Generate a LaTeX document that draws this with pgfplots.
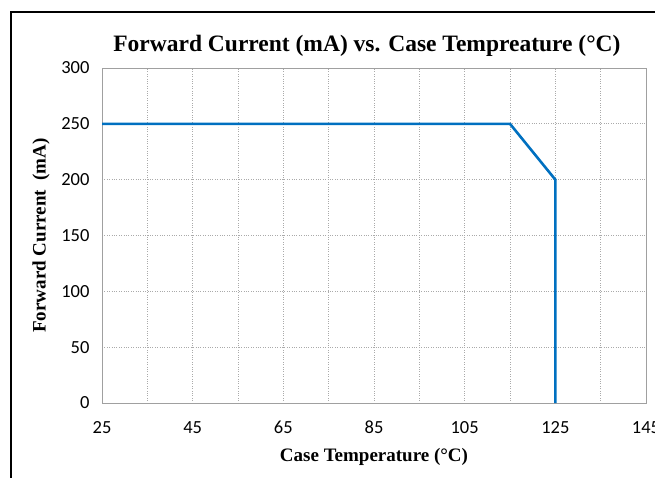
\documentclass[border=0pt]{standalone}
\usepackage{fontspec}
\usepackage{pgfplots}
\pgfplotsset{compat=1.18}
\newfontfamily\carlito{Carlito}
\newfontfamily\tnr{Liberation Serif}
\definecolor{xlblue}{RGB}{0,112,192}
\definecolor{gridgray}{RGB}{170,170,170}
\definecolor{boxgray}{RGB}{160,160,160}
\begin{document}
\begin{tikzpicture}[x=1pt,y=1pt]
\useasboundingbox (0,0) rectangle (655,477);
\draw[line width=2.8pt] (11,-10) -- (11,465) -- (670,465);
\begin{axis}[
  at={(102pt,74pt)}, anchor=south west,
  scale only axis, width=544pt, height=335pt,
  xmin=25, xmax=145, ymin=0, ymax=300,
  xtick={25,45,...,145}, minor xtick={35,55,...,135},
  ytick={0,50,...,300},
  grid=both,
  major grid style={dotted, gridgray, line width=0.9pt},
  minor grid style={dotted, gridgray, line width=0.9pt},
  axis line style={boxgray, line width=0.8pt},
  major tick length=0pt, minor tick length=0pt,
  /pgf/number format/assume math mode=true,
  ticklabel style={font=\carlito\fontsize{18.5}{18.5}\selectfont},
  xticklabel style={anchor=base, yshift=-30pt},
  yticklabel style={xshift=-9pt},
  title={\tnr\bfseries\fontsize{23.5}{23.5}\selectfont Forward Current (mA) vs. Case Tempreature (°C)},
  title style={at={(axis description cs:0.487,1.048)}, anchor=center},
  xlabel={\tnr\bfseries\fontsize{19}{19}\selectfont Case Temperature (°C)},
  xlabel style={at={(axis description cs:0.5,-0.161)}, anchor=center},
  ylabel={\tnr\bfseries\fontsize{19}{19}\selectfont Forward Current\ \ (mA)},
  ylabel style={at={(axis description cs:-0.112,0.5)}, anchor=center, rotate=0},
]
\addplot[xlblue, line width=2.6pt, line join=miter] coordinates {(25,250) (115,250) (125,200) (125,0)};
\end{axis}
\end{tikzpicture}
\end{document}
